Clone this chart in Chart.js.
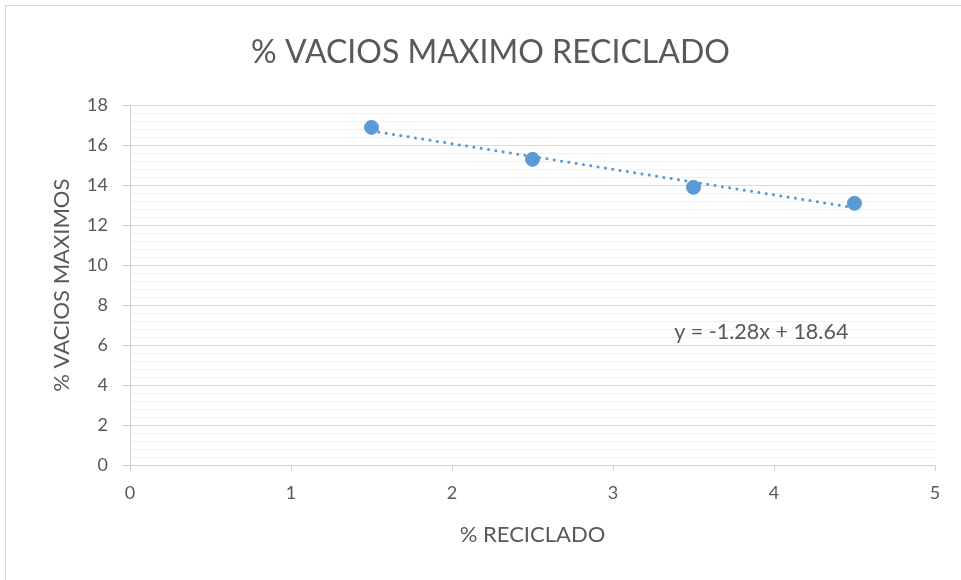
<!DOCTYPE html>
<html><head><meta charset="utf-8">
<script src="https://cdn.jsdelivr.net/npm/chart.js@4/dist/chart.umd.min.js"></script>
<style>html,body{margin:0;padding:0;background:#fff}</style>
</head><body>
<canvas id="c" width="961" height="580"></canvas>
<script>
// % reciclado vs % vacíos máximos
const reciclado = [1.5, 2.5, 3.5, 4.5];
const vaciosMax = [16.9, 15.3, 13.9, 13.1];
// linear trendline y = m x + b
const trendSlope = -1.28;
const trendIntercept = 18.64;
const xTickValues = [0, 1, 2, 3, 4, 5];
const yTickValues = [0, 2, 4, 6, 8, 10, 12, 14, 16, 18];

const TEXT = '#595959';
const BLUE = '#5b9bd5';
const FONT = 'Lato, "Open Sans", sans-serif';

const points = reciclado.map((x, i) => ({ x, y: vaciosMax[i] }));
const xFirst = reciclado[0], xLast = reciclado[reciclado.length - 1];
const trend = [xFirst, xLast].map(x => ({ x, y: trendSlope * x + trendIntercept }));
const eqText = 'y = ' + trendSlope.toFixed(2) + 'x + ' + trendIntercept.toFixed(2);

const isMajor = v => yTickValues.some(t => Math.abs(t - v) < 1e-6);

const frame = {
  id: 'frame',
  beforeDraw(chart) {
    const c = chart.ctx;
    c.save();
    c.strokeStyle = '#d9d9d9';
    c.lineWidth = 1;
    c.strokeRect(5.5, 5.5, 2000, 2000);
    c.restore();
  }
};

const equation = {
  id: 'equation',
  afterDatasetsDraw(chart) {
    const c = chart.ctx;
    const xs = chart.scales.x, ys = chart.scales.y;
    c.save();
    c.fillStyle = TEXT;
    c.font = '21.5px ' + FONT;
    c.textAlign = 'left';
    c.textBaseline = 'middle';
    c.fillText(eqText, xs.getPixelForValue(3.38), ys.getPixelForValue(6.65));
    c.restore();
  }
};

new Chart(document.getElementById('c'), {
  type: 'scatter',
  data: {
    datasets: [
      {
        label: 'Tendencia',
        type: 'line',
        data: trend,
        borderColor: BLUE,
        borderWidth: 3,
        borderDash: [0.1, 7.3],
        borderCapStyle: 'round',
        pointRadius: 0,
        fill: false,
        order: 2
      },
      {
        label: '% VACIOS MAXIMOS',
        data: points,
        backgroundColor: BLUE,
        borderColor: BLUE,
        pointRadius: 7,
        pointHoverRadius: 7,
        order: 1
      }
    ]
  },
  options: {
    responsive: false,
    devicePixelRatio: 1,
    animation: false,
    layout: { padding: { left: 46, right: 26, top: 6, bottom: 0 } },
    plugins: {
      legend: { display: false },
      tooltip: { enabled: false },
      title: {
        display: true,
        text: '% VACIOS MAXIMO RECICLADO',
        color: TEXT,
        font: { family: FONT, size: 32, weight: 'normal' },
        padding: { top: 27, bottom: 34 }
      }
    },
    scales: {
      x: {
        type: 'linear',
        min: 0, max: 5,
        afterBuildTicks: s => { s.ticks = xTickValues.map(v => ({ value: v })); },
        afterFit: s => { s.height = 115; },
        ticks: { color: TEXT, font: { family: FONT, size: 18 }, padding: 11 },
        grid: { drawOnChartArea: false, tickLength: 6, color: '#d0d0d0' },
        border: { color: '#d0d0d0' },
        title: {
          display: true, text: '% RECICLADO', color: TEXT,
          font: { family: FONT, size: 22 }, padding: { top: 0, bottom: 32 }
        }
      },
      y: {
        min: 0, max: 18,
        afterFit: s => { s.width = 84; },
        ticks: {
          stepSize: 0.4,
          autoSkip: false,
          color: TEXT,
          font: { family: FONT, size: 18 },
          padding: 14,
          callback: v => isMajor(v) ? String(Math.round(v)) : ''
        },
        grid: {
          tickLength: 8,
          color: ctx => isMajor(ctx.tick.value) ? '#d9d9d9' : '#f0f0f0',
          tickColor: ctx => isMajor(ctx.tick.value) ? '#d0d0d0' : 'rgba(0,0,0,0)'
        },
        border: { color: '#d0d0d0' },
        title: {
          display: true, text: '% VACIOS MAXIMOS', color: TEXT,
          font: { family: FONT, size: 22 }, padding: { top: 3, bottom: 0 }
        }
      }
    }
  },
  plugins: [frame, equation]
});
</script>
</body></html>
